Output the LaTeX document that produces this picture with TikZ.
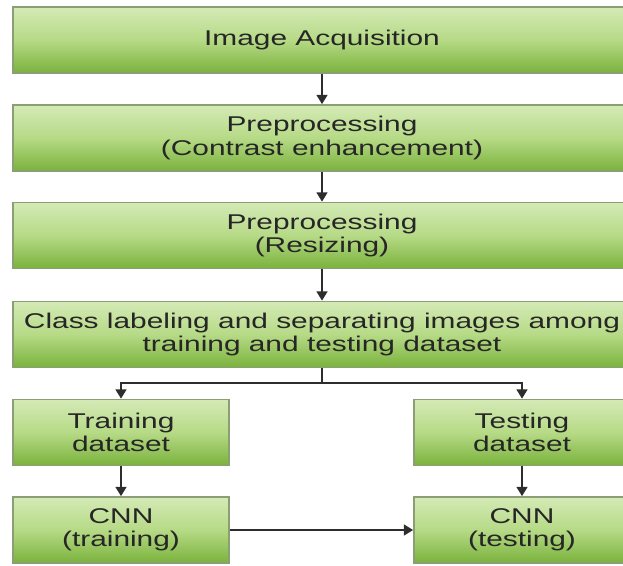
\documentclass[tikz,border=0pt]{standalone}
\usepackage{fontspec}
\setmainfont[FakeStretch=1.4]{Liberation Sans}
\usepackage{tikz}
\usetikzlibrary{arrows.meta}
\usetikzlibrary{positioning}

\definecolor{boxtop}{RGB}{212,234,182}
\definecolor{boxmid}{RGB}{182,218,134}
\definecolor{boxbot}{RGB}{122,178,60}
\definecolor{boxline}{RGB}{140,158,118}
\definecolor{arrowgray}{RGB}{45,45,45}

\tikzset{
  stage/.style={draw=boxline, line width=1.2pt, top color=boxtop, bottom color=boxbot, middle color=boxmid,
    minimum height=49.5pt, inner sep=0pt, align=center, text=black!85,
    font=\fontsize{16}{17.5}\selectfont},
  widestage/.style={stage, minimum width=463.5pt},
  halfstage/.style={stage, minimum width=162pt},
  flow/.style={draw=arrowgray, line width=1.8pt, -{Triangle[length=7pt,width=8pt]}}
}

\begin{document}
\begin{tikzpicture}[x=0.75pt,y=0.75pt,yscale=-1,xscale=1]
        \useasboundingbox (0,0) rectangle (623,565);
        \clip (0,0) rectangle (623,565);

        %Shape: Rectangle [id:acq] 
        \node [widestage] (acq) at (322,40) {Image Acquisition};
        %Shape: Rectangle [id:contrast] 
        \node [widestage] (contrast) at (322,138) {Preprocessing\\(Contrast enhancement)};
        %Shape: Rectangle [id:resize] 
        \node [widestage] (resize) at (322,235.5) {Preprocessing\\(Resizing)};
        %Shape: Rectangle [id:split] 
        \node [widestage] (split) at (322,334.5) {Class labeling and separating images among\\training and testing dataset};
        %Shape: Rectangle [id:trainset] 
        \node [halfstage] (trainset) at (121,432.5) {Training\\dataset};
        %Shape: Rectangle [id:testset] 
        \node [halfstage] (testset) at (522,432.5) {Testing\\dataset};
        %Shape: Rectangle [id:cnntrain] 
        \node [halfstage] (cnntrain) at (121,530) {CNN\\(training)};
        %Shape: Rectangle [id:cnntest] 
        \node [halfstage] (cnntest) at (522,530) {CNN\\(testing)};

        % branch point
        \coordinate (fork) at (322,383);

        %Straight Lines
        \draw [flow] (acq) -- (contrast);
        \draw [flow] (contrast) -- (resize);
        \draw [flow] (resize) -- (split);
        \draw [draw=arrowgray, line width=1.8pt] (split) -- (fork);
        \draw [flow] (fork) -| (trainset);
        \draw [flow] (fork) -| (testset);
        \draw [flow] (trainset) -- (cnntrain);
        \draw [flow] (testset) -- (cnntest);
        \draw [flow] (cnntrain) -- (cnntest);

\end{tikzpicture}
\end{document}
